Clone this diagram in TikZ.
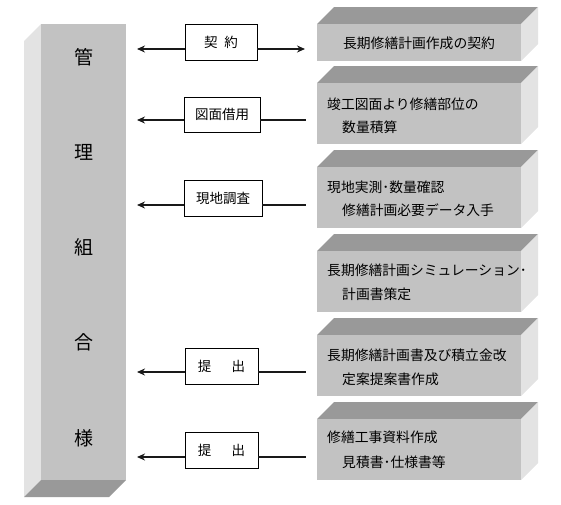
\documentclass[tikz,border=0pt]{standalone}
\usepackage{fontspec}
\setmainfont{Noto Sans CJK JP}
\usetikzlibrary{arrows.meta}
\definecolor{facefront}{gray}{0.76}
\definecolor{facetop}{gray}{0.60}
\definecolor{faceside}{gray}{0.89}
\tikzset{
  front/.style={fill=facefront,draw=none},
  topface/.style={fill=facetop,draw=none},
  sideface/.style={fill=faceside,draw=none},
  lab/.style={draw=black,line width=0.9pt,fill=white,inner sep=0pt,font=\fontsize{13.5}{15}\selectfont},
  boxtxt/.style={anchor=west,inner sep=0pt,font=\fontsize{13.8}{15}\selectfont},
  pilchar/.style={inner sep=0pt,font=\fontsize{19}{20}\selectfont},
  conn/.style={line width=2.2pt,draw=black!90},
  arr/.style={conn,-{Stealth[length=8pt,width=7pt]}},
}
\begin{document}
\begin{tikzpicture}[x=1pt,y=-1pt]
\useasboundingbox (0,0) rectangle (561,504);
% pillar
\fill[sideface] (41,24) -- (24,41) -- (24,497) -- (41,480) -- cycle;
\fill[topface] (41,480) -- (126,480) -- (109,497) -- (24,497) -- cycle;
\node[front,minimum width=85pt,minimum height=456pt,inner sep=0pt] (pil) at (83.5,252) {};
\node[pilchar] (c1) at (84,57) {管};
\node[pilchar] (c2) at (84,152) {理};
\node[pilchar] (c3) at (84,247) {組};
\node[pilchar] (c4) at (84,342) {合};
\node[pilchar] (c5) at (84,438) {様};
% right boxes
\foreach \t/\b/\n in {24/61/1,83/144/2,167/228/3,251/312/4,335/396/5,419/480/6}{
  \fill[topface] (317,\t) -- (334,\t-17) -- (538,\t-17) -- (521,\t) -- cycle;
  \fill[sideface] (521,\t) -- (538,\t-17) -- (538,\b-17) -- (521,\b) -- cycle;
  \node[front,minimum width=204pt,minimum height=\b-\t,inner sep=0pt] (b\n) at (419,{(\t+\b)/2}) {};
}
\node[inner sep=0pt,font=\fontsize{13.8}{15}\selectfont] (t1) at (419,43) {長期修繕計画作成の契約};
\node[boxtxt] (t2a) at (327,104) {竣工図面より修繕部位の};
\node[boxtxt] (t2b) at (342,127) {数量積算};
\node[boxtxt] (t3a) at (327,187) {現地実測･数量確認};
\node[boxtxt] (t3b) at (342,210) {修繕計画必要データ入手};
\node[boxtxt] (t4a) at (327,270) {長期修繕計画シミュレーション･};
\node[boxtxt] (t4b) at (342,294) {計画書策定};
\node[boxtxt] (t5a) at (327,355) {長期修繕計画書及び積立金改};
\node[boxtxt] (t5b) at (342,379) {定案提案書作成};
\node[boxtxt] (t6a) at (327,437) {修繕工事資料作成};
\node[boxtxt] (t6b) at (342,462) {見積書･仕様書等};
% labels
\node[lab,minimum width=72pt,minimum height=36pt] (l1) at (221,42) {契\hspace{0.5em}約};
\node[lab,minimum width=76pt,minimum height=35pt] (l2) at (222,114.5) {図面借用};
\node[lab,minimum width=78pt,minimum height=36pt] (l3) at (223,198) {現地調査};
\node[lab,minimum width=73pt,minimum height=36pt] (l5) at (221.5,366) {提\hspace{1.5em}出};
\node[lab,minimum width=73pt,minimum height=36pt] (l6) at (221.5,450) {提\hspace{1.5em}出};
% connector end points
\coordinate (p1) at (137,49);  \coordinate (q1) at (305,49);
\coordinate (p2) at (137,120); \coordinate (q2) at (306,120);
\coordinate (p3) at (137,205); \coordinate (q3) at (306,205);
\coordinate (p5) at (137,372); \coordinate (q5) at (306,372);
\coordinate (p6) at (137,457); \coordinate (q6) at (306,457);
\draw[arr] (l1.west |- p1) -- (p1);
\draw[arr] (l1.east |- q1) -- (q1);
\draw[arr] (l2.west |- p2) -- (p2);
\draw[conn] (l2.east |- q2) -- (q2);
\draw[arr] (l3.west |- p3) -- (p3);
\draw[conn] (l3.east |- q3) -- (q3);
\draw[arr] (l5.west |- p5) -- (p5);
\draw[conn] (l5.east |- q5) -- (q5);
\draw[arr] (l6.west |- p6) -- (p6);
\draw[conn] (l6.east |- q6) -- (q6);
\end{tikzpicture}
\end{document}
